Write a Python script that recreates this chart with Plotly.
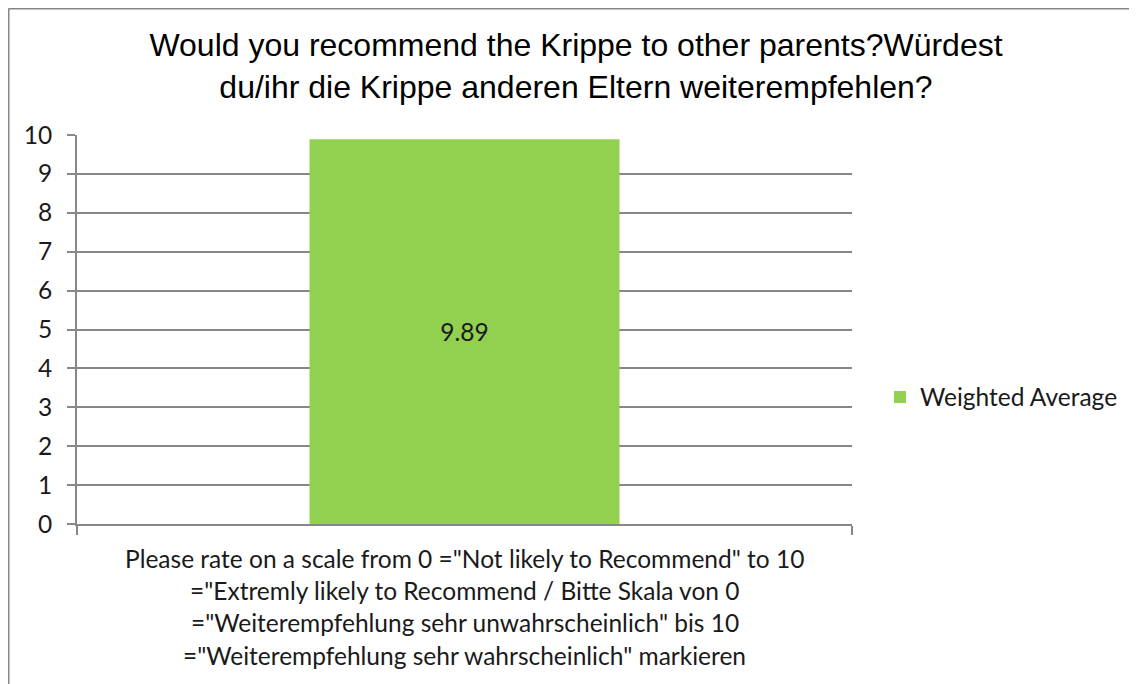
import plotly.graph_objects as go

# ---- data ----
category_lines = [
    'Please rate on a scale from 0 ="Not likely to Recommend" to 10',
    '="Extremly likely to Recommend / Bitte Skala von 0',
    '="Weiterempfehlung sehr unwahrscheinlich" bis 10',
    '="Weiterempfehlung sehr wahrscheinlich" markieren',
]
categories = [" ".join(category_lines)]
series_name = "Weighted Average"
values = [9.89]
y_ticks = list(range(0, 11))
title_lines = [
    "Would you recommend the Krippe to other parents?Würdest",
    "du/ihr die Krippe anderen Eltern weiterempfehlen?",
]

# ---- style ----
W, H = 1137, 684
OFF = 8  # page body margin
L, R, T, B = 77 - OFF, 852 - OFF, 135 - OFF, 524 - OFF  # figure pixel coords
GRAY = "#878787"
GREEN = "#92D050"
BODY_FONT = "Lato, 'Open Sans', sans-serif"
TITLE_FONT = "'Liberation Sans', Arial, sans-serif"
TXT = "#1a1a1a"
BODY_SIZE = 24.5


def px_x(sx):
    return (sx - OFF - L) / (R - L)


def px_y(sy):
    return (B - (sy - OFF)) / (B - T)


fig = go.Figure()
fig.add_trace(go.Bar(
    x=categories,
    y=values,
    name=series_name,
    marker=dict(color=GREEN, line=dict(width=0)),
    text=[f"{v:.2f}" for v in values],
    textposition="inside",
    insidetextanchor="middle",
    textangle=0,
    textfont=dict(family=BODY_FONT, size=BODY_SIZE, color=TXT),
    showlegend=True,
))

annotations = []
line_y = [558, 590, 622, 655]  # screen y of line centres
for txt, yy in zip(category_lines, line_y):
    annotations.append(dict(
        text=txt, x=categories[0], xref="x", y=px_y(yy), yref="paper",
        xanchor="center", yanchor="middle", showarrow=False,
        font=dict(family=BODY_FONT, size=BODY_SIZE, color=TXT),
    ))

fig.update_layout(
    width=W, height=H,
    margin=dict(l=L, r=W - R, t=T, b=H - B, pad=0),
    paper_bgcolor="white",
    plot_bgcolor="white",
    bargap=0.6,
    title=dict(
        text="<br>".join(title_lines),
        x=(576 - OFF) / W, xanchor="center",
        y=1 - 48 / H, yanchor="middle",
        font=dict(family=TITLE_FONT, size=32, color="black"),
    ),
    legend=dict(
        x=px_x(880), xanchor="left",
        y=px_y(397), yanchor="middle",
        font=dict(family=BODY_FONT, size=BODY_SIZE, color=TXT),
        bgcolor="rgba(0,0,0,0)",
    ),
    xaxis=dict(
        type="category",
        range=[-0.5, 0.5],
        showticklabels=False,
        showline=True, linecolor=GRAY, linewidth=2,
        ticks="outside", tickson="boundaries", ticklen=9, tickwidth=2, tickcolor=GRAY,
        showgrid=False, zeroline=False, fixedrange=True,
    ),
    yaxis=dict(
        range=[0, 10],
        tickvals=y_ticks,
        showline=True, linecolor=GRAY, linewidth=2,
        showgrid=True, gridcolor=GRAY, gridwidth=2,
        ticks="outside", ticklen=8, tickwidth=2, tickcolor=GRAY,
        ticklabelstandoff=10,
        tickfont=dict(family=BODY_FONT, size=BODY_SIZE, color=TXT),
        zeroline=False, fixedrange=True,
    ),
    annotations=annotations,
    shapes=[
        dict(type="line", xref="paper", yref="paper",
             x0=px_x(8.5), x1=px_x(W + 20), y0=px_y(8.5), y1=px_y(8.5),
             line=dict(color=GRAY, width=2)),
        dict(type="line", xref="paper", yref="paper",
             x0=px_x(8.5), x1=px_x(8.5), y0=px_y(8.5), y1=px_y(H + 20),
             line=dict(color=GRAY, width=2)),
    ],
)

fig.write_html("out.html")
